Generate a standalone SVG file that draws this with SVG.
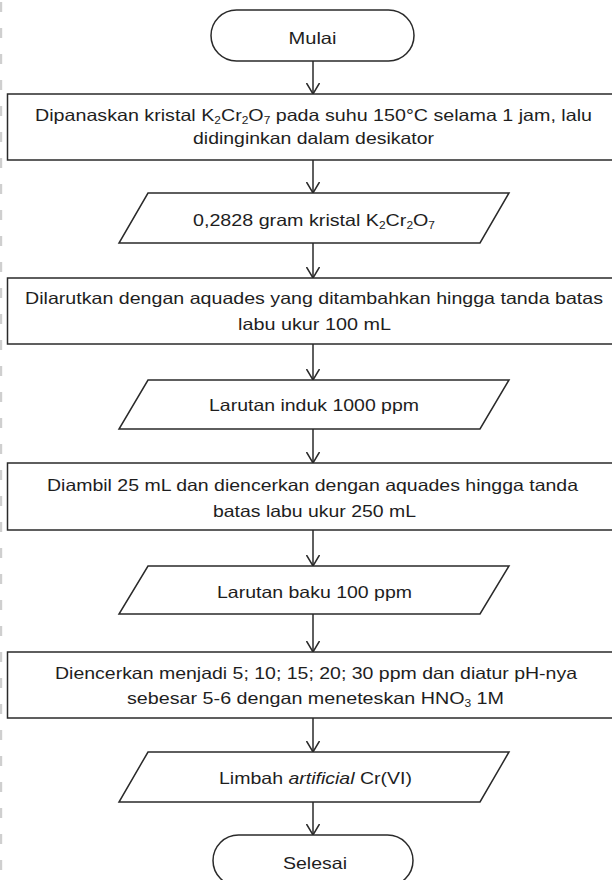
<svg xmlns="http://www.w3.org/2000/svg" width="612" height="880" viewBox="0 0 612 880">
<style>
  .shape{fill:#ffffff;stroke:#2a2a2a;stroke-width:1.5}
  .conn{fill:none;stroke:#2a2a2a;stroke-width:1.5}
  .t{font-family:"Liberation Sans",Arial,sans-serif;font-size:16.5px;fill:#1e1e1e;text-anchor:middle}
  .sub{font-size:10px}
  .edge{fill:none;stroke:#cfcfcf;stroke-width:2.2;stroke-dasharray:10 16}
</style>
<defs>
  <marker id="ah" viewBox="0 0 12 14" refX="11" refY="7" markerWidth="12" markerHeight="14" markerUnits="userSpaceOnUse" orient="auto">
    <path d="M0,0.5 L11,7 L0,13.5" fill="none" stroke="#2a2a2a" stroke-width="1.5"/>
  </marker>
</defs>
<rect width="612" height="880" fill="#ffffff"/>
<line class="edge" x1="1.1" y1="2" x2="1.1" y2="880"/>

<g id="connectors">
  <line class="conn" x1="313" y1="61" x2="313" y2="94" marker-end="url(#ah)"/>
  <line class="conn" x1="313" y1="160" x2="313" y2="193" marker-end="url(#ah)"/>
  <line class="conn" x1="313" y1="243" x2="313" y2="278" marker-end="url(#ah)"/>
  <line class="conn" x1="313" y1="344" x2="313" y2="380" marker-end="url(#ah)"/>
  <line class="conn" x1="313" y1="429" x2="313" y2="463" marker-end="url(#ah)"/>
  <line class="conn" x1="313" y1="530" x2="313" y2="566" marker-end="url(#ah)"/>
  <line class="conn" x1="313" y1="614" x2="313" y2="652" marker-end="url(#ah)"/>
  <line class="conn" x1="313" y1="718" x2="313" y2="752" marker-end="url(#ah)"/>
  <line class="conn" x1="313" y1="802" x2="313" y2="835" marker-end="url(#ah)"/>
</g>

<g id="start">
  <rect class="shape" x="211" y="10" width="203" height="51" rx="25.5" ry="25.5"/>
  <text class="t" x="312.5" y="43.5" textLength="48" lengthAdjust="spacingAndGlyphs">Mulai</text>
</g>

<g id="step1">
  <rect class="shape" x="7.5" y="94" width="620" height="66"/>
  <text class="t" x="313.5" y="121" textLength="557" lengthAdjust="spacingAndGlyphs">Dipanaskan kristal K<tspan class="sub" dy="3">2</tspan><tspan dy="-3">Cr</tspan><tspan class="sub" dy="3">2</tspan><tspan dy="-3">O</tspan><tspan class="sub" dy="3">7</tspan><tspan dy="-3"> pada suhu 150°C selama 1 jam, lalu</tspan></text>
  <text class="t" x="313.5" y="144" textLength="241" lengthAdjust="spacingAndGlyphs">didinginkan dalam desikator</text>
</g>

<g id="data1">
  <polygon class="shape" points="148,193 509,193 480,243 119,243"/>
  <text class="t" x="314" y="226" textLength="242" lengthAdjust="spacingAndGlyphs">0,2828 gram kristal K<tspan class="sub" dy="3">2</tspan><tspan dy="-3">Cr</tspan><tspan class="sub" dy="3">2</tspan><tspan dy="-3">O</tspan><tspan class="sub" dy="3">7</tspan></text>
</g>

<g id="step2">
  <rect class="shape" x="7.5" y="278" width="620" height="66"/>
  <text class="t" x="314" y="304" textLength="578" lengthAdjust="spacingAndGlyphs">Dilarutkan dengan aquades yang ditambahkan hingga tanda batas</text>
  <text class="t" x="314.5" y="330" textLength="153" lengthAdjust="spacingAndGlyphs">labu ukur 100 mL</text>
</g>

<g id="data2">
  <polygon class="shape" points="148,380 509,380 480,429 119,429"/>
  <text class="t" x="314" y="411" textLength="210" lengthAdjust="spacingAndGlyphs">Larutan induk 1000 ppm</text>
</g>

<g id="step3">
  <rect class="shape" x="7.5" y="463" width="620" height="67"/>
  <text class="t" x="312.5" y="491" textLength="531" lengthAdjust="spacingAndGlyphs">Diambil 25 mL dan diencerkan dengan aquades hingga tanda</text>
  <text class="t" x="314.5" y="517" textLength="203" lengthAdjust="spacingAndGlyphs">batas labu ukur 250 mL</text>
</g>

<g id="data3">
  <polygon class="shape" points="148,566 509,566 480,614 119,614"/>
  <text class="t" x="314.5" y="598" textLength="195" lengthAdjust="spacingAndGlyphs">Larutan baku 100 ppm</text>
</g>

<g id="step4">
  <rect class="shape" x="7.5" y="652" width="620" height="66"/>
  <text class="t" x="316" y="679" textLength="522" lengthAdjust="spacingAndGlyphs">Diencerkan menjadi 5; 10; 15; 20; 30 ppm dan diatur pH-nya</text>
  <text class="t" x="315.5" y="704" textLength="377" lengthAdjust="spacingAndGlyphs">sebesar 5-6 dengan meneteskan HNO<tspan class="sub" dy="3">3</tspan><tspan dy="-3"> 1M</tspan></text>
</g>

<g id="data4">
  <polygon class="shape" points="148,752 509,752 480,802 119,802"/>
  <text class="t" x="315.5" y="784" textLength="193" lengthAdjust="spacingAndGlyphs">Limbah <tspan font-style="italic">artificial</tspan> Cr(VI)</text>
</g>

<g id="end">
  <rect class="shape" x="213" y="835" width="200" height="51" rx="25.5" ry="25.5"/>
  <text class="t" x="315" y="869" textLength="64" lengthAdjust="spacingAndGlyphs">Selesai</text>
</g>
</svg>
